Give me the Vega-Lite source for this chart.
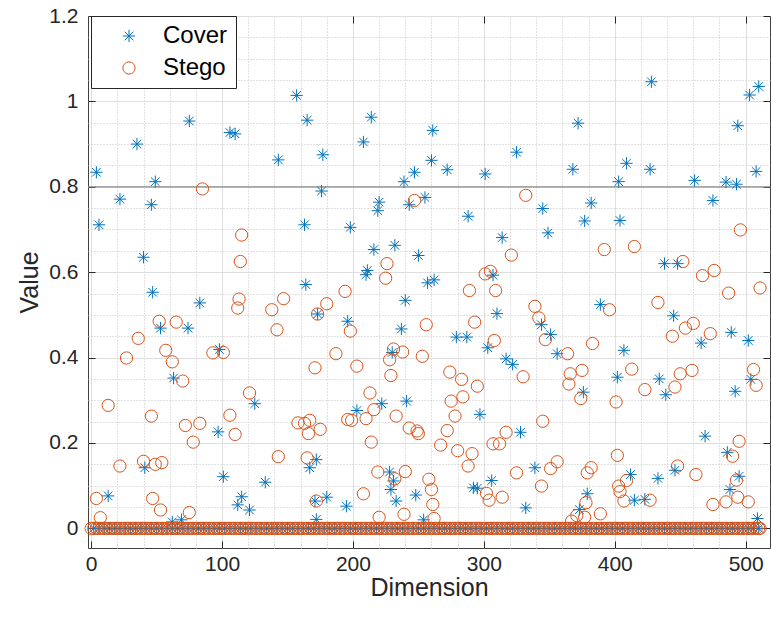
{
"$schema": "https://vega.github.io/schema/vega-lite/v6.json",
"width": 682, "height": 532,
"autosize": "none",
"padding": {"left": 88, "top": 16, "right": 1, "bottom": 77},
"background": "white",
"config": {"view": {"stroke": "#404040", "strokeWidth": 1}, "font": "Liberation Sans",
 "axis": {"labelFont": "Liberation Sans", "titleFont": "Liberation Sans", "labelColor": "#262626", "titleColor": "#262626", "titleFontWeight": "normal"}},
"datasets": {"pts": [
{"d":2,"v":0,"s":"Cover"},{"d":6,"v":0,"s":"Cover"},{"d":10,"v":0,"s":"Cover"},{"d":14,"v":0,"s":"Cover"},{"d":18,"v":0,"s":"Cover"},{"d":22,"v":0,"s":"Cover"},{"d":26,"v":0,"s":"Cover"},{"d":30,"v":0,"s":"Cover"},{"d":34,"v":0,"s":"Cover"},{"d":38,"v":0,"s":"Cover"},{"d":42,"v":0,"s":"Cover"},{"d":46,"v":0,"s":"Cover"},{"d":50,"v":0,"s":"Cover"},{"d":54,"v":0,"s":"Cover"},{"d":58,"v":0,"s":"Cover"},{"d":62,"v":0,"s":"Cover"},{"d":66,"v":0,"s":"Cover"},{"d":70,"v":0,"s":"Cover"},{"d":74,"v":0,"s":"Cover"},{"d":78,"v":0,"s":"Cover"},{"d":82,"v":0,"s":"Cover"},{"d":86,"v":0,"s":"Cover"},{"d":90,"v":0,"s":"Cover"},{"d":94,"v":0,"s":"Cover"},{"d":98,"v":0,"s":"Cover"},{"d":102,"v":0,"s":"Cover"},{"d":106,"v":0,"s":"Cover"},{"d":110,"v":0,"s":"Cover"},{"d":114,"v":0,"s":"Cover"},{"d":118,"v":0,"s":"Cover"},{"d":122,"v":0,"s":"Cover"},{"d":126,"v":0,"s":"Cover"},{"d":130,"v":0,"s":"Cover"},{"d":134,"v":0,"s":"Cover"},{"d":138,"v":0,"s":"Cover"},{"d":142,"v":0,"s":"Cover"},{"d":146,"v":0,"s":"Cover"},{"d":150,"v":0,"s":"Cover"},{"d":154,"v":0,"s":"Cover"},{"d":158,"v":0,"s":"Cover"},{"d":162,"v":0,"s":"Cover"},{"d":166,"v":0,"s":"Cover"},{"d":170,"v":0,"s":"Cover"},{"d":174,"v":0,"s":"Cover"},{"d":178,"v":0,"s":"Cover"},{"d":182,"v":0,"s":"Cover"},{"d":186,"v":0,"s":"Cover"},{"d":190,"v":0,"s":"Cover"},{"d":194,"v":0,"s":"Cover"},{"d":198,"v":0,"s":"Cover"},{"d":202,"v":0,"s":"Cover"},{"d":206,"v":0,"s":"Cover"},{"d":210,"v":0,"s":"Cover"},{"d":214,"v":0,"s":"Cover"},{"d":218,"v":0,"s":"Cover"},{"d":222,"v":0,"s":"Cover"},{"d":226,"v":0,"s":"Cover"},{"d":230,"v":0,"s":"Cover"},{"d":234,"v":0,"s":"Cover"},{"d":238,"v":0,"s":"Cover"},{"d":242,"v":0,"s":"Cover"},{"d":246,"v":0,"s":"Cover"},{"d":250,"v":0,"s":"Cover"},{"d":254,"v":0,"s":"Cover"},{"d":258,"v":0,"s":"Cover"},{"d":262,"v":0,"s":"Cover"},{"d":266,"v":0,"s":"Cover"},{"d":270,"v":0,"s":"Cover"},{"d":274,"v":0,"s":"Cover"},{"d":278,"v":0,"s":"Cover"},{"d":282,"v":0,"s":"Cover"},{"d":286,"v":0,"s":"Cover"},{"d":290,"v":0,"s":"Cover"},{"d":294,"v":0,"s":"Cover"},{"d":298,"v":0,"s":"Cover"},{"d":302,"v":0,"s":"Cover"},{"d":306,"v":0,"s":"Cover"},{"d":310,"v":0,"s":"Cover"},{"d":314,"v":0,"s":"Cover"},{"d":318,"v":0,"s":"Cover"},{"d":322,"v":0,"s":"Cover"},{"d":326,"v":0,"s":"Cover"},{"d":330,"v":0,"s":"Cover"},{"d":334,"v":0,"s":"Cover"},{"d":338,"v":0,"s":"Cover"},{"d":342,"v":0,"s":"Cover"},{"d":346,"v":0,"s":"Cover"},{"d":350,"v":0,"s":"Cover"},{"d":354,"v":0,"s":"Cover"},{"d":358,"v":0,"s":"Cover"},{"d":362,"v":0,"s":"Cover"},{"d":366,"v":0,"s":"Cover"},{"d":370,"v":0,"s":"Cover"},{"d":374,"v":0,"s":"Cover"},{"d":378,"v":0,"s":"Cover"},{"d":382,"v":0,"s":"Cover"},{"d":386,"v":0,"s":"Cover"},{"d":390,"v":0,"s":"Cover"},{"d":394,"v":0,"s":"Cover"},{"d":398,"v":0,"s":"Cover"},{"d":402,"v":0,"s":"Cover"},{"d":406,"v":0,"s":"Cover"},{"d":410,"v":0,"s":"Cover"},{"d":414,"v":0,"s":"Cover"},{"d":418,"v":0,"s":"Cover"},{"d":422,"v":0,"s":"Cover"},{"d":426,"v":0,"s":"Cover"},{"d":430,"v":0,"s":"Cover"},{"d":434,"v":0,"s":"Cover"},{"d":438,"v":0,"s":"Cover"},{"d":442,"v":0,"s":"Cover"},{"d":446,"v":0,"s":"Cover"},{"d":450,"v":0,"s":"Cover"},{"d":454,"v":0,"s":"Cover"},{"d":458,"v":0,"s":"Cover"},{"d":462,"v":0,"s":"Cover"},{"d":466,"v":0,"s":"Cover"},{"d":470,"v":0,"s":"Cover"},{"d":474,"v":0,"s":"Cover"},{"d":478,"v":0,"s":"Cover"},{"d":482,"v":0,"s":"Cover"},{"d":486,"v":0,"s":"Cover"},{"d":490,"v":0,"s":"Cover"},{"d":494,"v":0,"s":"Cover"},{"d":498,"v":0,"s":"Cover"},{"d":502,"v":0,"s":"Cover"},{"d":506,"v":0,"s":"Cover"},{"d":510,"v":0,"s":"Cover"},
{"d":75,"v":0.954,"s":"Cover"},{"d":35,"v":0.9,"s":"Cover"},{"d":4,"v":0.834,"s":"Cover"},{"d":49,"v":0.812,"s":"Cover"},{"d":22,"v":0.771,"s":"Cover"},{"d":46,"v":0.758,"s":"Cover"},{"d":6,"v":0.711,"s":"Cover"},{"d":40,"v":0.635,"s":"Cover"},{"d":47,"v":0.553,"s":"Cover"},
{"d":157,"v":1.014,"s":"Cover"},{"d":165,"v":0.956,"s":"Cover"},{"d":106,"v":0.927,"s":"Cover"},{"d":110,"v":0.924,"s":"Cover"},{"d":143,"v":0.863,"s":"Cover"},{"d":177,"v":0.875,"s":"Cover"},{"d":176,"v":0.79,"s":"Cover"},{"d":163,"v":0.711,"s":"Cover"},{"d":164,"v":0.571,"s":"Cover"},
{"d":214,"v":0.963,"s":"Cover"},{"d":208,"v":0.905,"s":"Cover"},{"d":261,"v":0.932,"s":"Cover"},{"d":260,"v":0.862,"s":"Cover"},{"d":247,"v":0.834,"s":"Cover"},{"d":239,"v":0.812,"s":"Cover"},{"d":220,"v":0.764,"s":"Cover"},{"d":219,"v":0.744,"s":"Cover"},{"d":243,"v":0.758,"s":"Cover"},{"d":255,"v":0.775,"s":"Cover"},{"d":198,"v":0.705,"s":"Cover"},{"d":216,"v":0.653,"s":"Cover"},{"d":232,"v":0.663,"s":"Cover"},{"d":250,"v":0.639,"s":"Cover"},{"d":211,"v":0.604,"s":"Cover"},{"d":210,"v":0.594,"s":"Cover"},{"d":257,"v":0.575,"s":"Cover"},{"d":262,"v":0.582,"s":"Cover"},
{"d":272,"v":0.84,"s":"Cover"},{"d":301,"v":0.83,"s":"Cover"},{"d":325,"v":0.881,"s":"Cover"},{"d":345,"v":0.749,"s":"Cover"},{"d":288,"v":0.731,"s":"Cover"},{"d":314,"v":0.681,"s":"Cover"},{"d":349,"v":0.692,"s":"Cover"},{"d":307,"v":0.593,"s":"Cover"},
{"d":428,"v":1.046,"s":"Cover"},{"d":372,"v":0.949,"s":"Cover"},{"d":368,"v":0.841,"s":"Cover"},{"d":409,"v":0.855,"s":"Cover"},{"d":427,"v":0.841,"s":"Cover"},{"d":403,"v":0.812,"s":"Cover"},{"d":382,"v":0.762,"s":"Cover"},{"d":377,"v":0.72,"s":"Cover"},{"d":404,"v":0.721,"s":"Cover"},{"d":438,"v":0.62,"s":"Cover"},
{"d":510,"v":1.035,"s":"Cover"},{"d":503,"v":1.015,"s":"Cover"},{"d":494,"v":0.943,"s":"Cover"},{"d":508,"v":0.836,"s":"Cover"},{"d":461,"v":0.815,"s":"Cover"},{"d":485,"v":0.811,"s":"Cover"},{"d":493,"v":0.806,"s":"Cover"},{"d":475,"v":0.768,"s":"Cover"},{"d":448,"v":0.62,"s":"Cover"},
{"d":83,"v":0.528,"s":"Cover"},{"d":53,"v":0.469,"s":"Cover"},{"d":74,"v":0.469,"s":"Cover"},{"d":63,"v":0.352,"s":"Cover"},{"d":41,"v":0.142,"s":"Cover"},{"d":13,"v":0.076,"s":"Cover"},{"d":62,"v":0.015,"s":"Cover"},{"d":69,"v":0.02,"s":"Cover"},
{"d":173,"v":0.502,"s":"Cover"},{"d":98,"v":0.419,"s":"Cover"},{"d":125,"v":0.292,"s":"Cover"},{"d":97,"v":0.226,"s":"Cover"},{"d":101,"v":0.121,"s":"Cover"},{"d":133,"v":0.108,"s":"Cover"},{"d":115,"v":0.074,"s":"Cover"},{"d":112,"v":0.055,"s":"Cover"},{"d":121,"v":0.043,"s":"Cover"},{"d":167,"v":0.142,"s":"Cover"},{"d":172,"v":0.161,"s":"Cover"},{"d":171,"v":0.064,"s":"Cover"},{"d":172,"v":0.021,"s":"Cover"},
{"d":240,"v":0.534,"s":"Cover"},{"d":196,"v":0.485,"s":"Cover"},{"d":237,"v":0.467,"s":"Cover"},{"d":230,"v":0.412,"s":"Cover"},{"d":222,"v":0.292,"s":"Cover"},{"d":203,"v":0.276,"s":"Cover"},{"d":241,"v":0.298,"s":"Cover"},{"d":180,"v":0.073,"s":"Cover"},{"d":195,"v":0.052,"s":"Cover"},{"d":228,"v":0.132,"s":"Cover"},{"d":231,"v":0.111,"s":"Cover"},{"d":229,"v":0.091,"s":"Cover"},{"d":233,"v":0.064,"s":"Cover"},{"d":248,"v":0.078,"s":"Cover"},{"d":254,"v":0.02,"s":"Cover"},
{"d":310,"v":0.503,"s":"Cover"},{"d":279,"v":0.448,"s":"Cover"},{"d":287,"v":0.448,"s":"Cover"},{"d":303,"v":0.423,"s":"Cover"},{"d":317,"v":0.397,"s":"Cover"},{"d":322,"v":0.384,"s":"Cover"},{"d":344,"v":0.477,"s":"Cover"},{"d":351,"v":0.454,"s":"Cover"},{"d":297,"v":0.267,"s":"Cover"},{"d":328,"v":0.225,"s":"Cover"},{"d":339,"v":0.142,"s":"Cover"},{"d":306,"v":0.112,"s":"Cover"},{"d":292,"v":0.095,"s":"Cover"},{"d":295,"v":0.094,"s":"Cover"},{"d":332,"v":0.048,"s":"Cover"},
{"d":389,"v":0.524,"s":"Cover"},{"d":356,"v":0.409,"s":"Cover"},{"d":407,"v":0.417,"s":"Cover"},{"d":402,"v":0.354,"s":"Cover"},{"d":434,"v":0.35,"s":"Cover"},{"d":376,"v":0.319,"s":"Cover"},{"d":412,"v":0.126,"s":"Cover"},{"d":433,"v":0.117,"s":"Cover"},{"d":379,"v":0.081,"s":"Cover"},{"d":415,"v":0.066,"s":"Cover"},{"d":423,"v":0.068,"s":"Cover"},{"d":373,"v":0.044,"s":"Cover"},
{"d":445,"v":0.498,"s":"Cover"},{"d":466,"v":0.434,"s":"Cover"},{"d":489,"v":0.459,"s":"Cover"},{"d":502,"v":0.44,"s":"Cover"},{"d":439,"v":0.313,"s":"Cover"},{"d":504,"v":0.349,"s":"Cover"},{"d":492,"v":0.321,"s":"Cover"},{"d":469,"v":0.216,"s":"Cover"},{"d":486,"v":0.178,"s":"Cover"},{"d":446,"v":0.136,"s":"Cover"},{"d":495,"v":0.122,"s":"Cover"},{"d":488,"v":0.091,"s":"Cover"},{"d":509,"v":0.023,"s":"Cover"},
{"d":0,"v":0,"s":"Stego"},{"d":2,"v":0,"s":"Stego"},{"d":4,"v":0,"s":"Stego"},{"d":6,"v":0,"s":"Stego"},{"d":8,"v":0,"s":"Stego"},{"d":10,"v":0,"s":"Stego"},{"d":12,"v":0,"s":"Stego"},{"d":14,"v":0,"s":"Stego"},{"d":16,"v":0,"s":"Stego"},{"d":18,"v":0,"s":"Stego"},{"d":20,"v":0,"s":"Stego"},{"d":22,"v":0,"s":"Stego"},{"d":24,"v":0,"s":"Stego"},{"d":26,"v":0,"s":"Stego"},{"d":28,"v":0,"s":"Stego"},{"d":30,"v":0,"s":"Stego"},{"d":32,"v":0,"s":"Stego"},{"d":34,"v":0,"s":"Stego"},{"d":36,"v":0,"s":"Stego"},{"d":38,"v":0,"s":"Stego"},{"d":40,"v":0,"s":"Stego"},{"d":42,"v":0,"s":"Stego"},{"d":44,"v":0,"s":"Stego"},{"d":46,"v":0,"s":"Stego"},{"d":48,"v":0,"s":"Stego"},{"d":50,"v":0,"s":"Stego"},{"d":52,"v":0,"s":"Stego"},{"d":54,"v":0,"s":"Stego"},{"d":56,"v":0,"s":"Stego"},{"d":58,"v":0,"s":"Stego"},{"d":60,"v":0,"s":"Stego"},{"d":62,"v":0,"s":"Stego"},{"d":64,"v":0,"s":"Stego"},{"d":66,"v":0,"s":"Stego"},{"d":68,"v":0,"s":"Stego"},{"d":70,"v":0,"s":"Stego"},{"d":72,"v":0,"s":"Stego"},{"d":74,"v":0,"s":"Stego"},{"d":76,"v":0,"s":"Stego"},{"d":78,"v":0,"s":"Stego"},{"d":80,"v":0,"s":"Stego"},{"d":82,"v":0,"s":"Stego"},{"d":84,"v":0,"s":"Stego"},{"d":86,"v":0,"s":"Stego"},{"d":88,"v":0,"s":"Stego"},{"d":90,"v":0,"s":"Stego"},{"d":92,"v":0,"s":"Stego"},{"d":94,"v":0,"s":"Stego"},{"d":96,"v":0,"s":"Stego"},{"d":98,"v":0,"s":"Stego"},{"d":100,"v":0,"s":"Stego"},{"d":102,"v":0,"s":"Stego"},{"d":104,"v":0,"s":"Stego"},{"d":106,"v":0,"s":"Stego"},{"d":108,"v":0,"s":"Stego"},{"d":110,"v":0,"s":"Stego"},{"d":112,"v":0,"s":"Stego"},{"d":114,"v":0,"s":"Stego"},{"d":116,"v":0,"s":"Stego"},{"d":118,"v":0,"s":"Stego"},{"d":120,"v":0,"s":"Stego"},{"d":122,"v":0,"s":"Stego"},{"d":124,"v":0,"s":"Stego"},{"d":126,"v":0,"s":"Stego"},{"d":128,"v":0,"s":"Stego"},{"d":130,"v":0,"s":"Stego"},{"d":132,"v":0,"s":"Stego"},{"d":134,"v":0,"s":"Stego"},{"d":136,"v":0,"s":"Stego"},{"d":138,"v":0,"s":"Stego"},{"d":140,"v":0,"s":"Stego"},{"d":142,"v":0,"s":"Stego"},{"d":144,"v":0,"s":"Stego"},{"d":146,"v":0,"s":"Stego"},{"d":148,"v":0,"s":"Stego"},{"d":150,"v":0,"s":"Stego"},{"d":152,"v":0,"s":"Stego"},{"d":154,"v":0,"s":"Stego"},{"d":156,"v":0,"s":"Stego"},{"d":158,"v":0,"s":"Stego"},{"d":160,"v":0,"s":"Stego"},{"d":162,"v":0,"s":"Stego"},{"d":164,"v":0,"s":"Stego"},{"d":166,"v":0,"s":"Stego"},{"d":168,"v":0,"s":"Stego"},{"d":170,"v":0,"s":"Stego"},{"d":172,"v":0,"s":"Stego"},{"d":174,"v":0,"s":"Stego"},{"d":176,"v":0,"s":"Stego"},{"d":178,"v":0,"s":"Stego"},{"d":180,"v":0,"s":"Stego"},{"d":182,"v":0,"s":"Stego"},{"d":184,"v":0,"s":"Stego"},{"d":186,"v":0,"s":"Stego"},{"d":188,"v":0,"s":"Stego"},{"d":190,"v":0,"s":"Stego"},{"d":192,"v":0,"s":"Stego"},{"d":194,"v":0,"s":"Stego"},{"d":196,"v":0,"s":"Stego"},{"d":198,"v":0,"s":"Stego"},{"d":200,"v":0,"s":"Stego"},{"d":202,"v":0,"s":"Stego"},{"d":204,"v":0,"s":"Stego"},{"d":206,"v":0,"s":"Stego"},{"d":208,"v":0,"s":"Stego"},{"d":210,"v":0,"s":"Stego"},{"d":212,"v":0,"s":"Stego"},{"d":214,"v":0,"s":"Stego"},{"d":216,"v":0,"s":"Stego"},{"d":218,"v":0,"s":"Stego"},{"d":220,"v":0,"s":"Stego"},{"d":222,"v":0,"s":"Stego"},{"d":224,"v":0,"s":"Stego"},{"d":226,"v":0,"s":"Stego"},{"d":228,"v":0,"s":"Stego"},{"d":230,"v":0,"s":"Stego"},{"d":232,"v":0,"s":"Stego"},{"d":234,"v":0,"s":"Stego"},{"d":236,"v":0,"s":"Stego"},{"d":238,"v":0,"s":"Stego"},{"d":240,"v":0,"s":"Stego"},{"d":242,"v":0,"s":"Stego"},{"d":244,"v":0,"s":"Stego"},{"d":246,"v":0,"s":"Stego"},{"d":248,"v":0,"s":"Stego"},{"d":250,"v":0,"s":"Stego"},{"d":252,"v":0,"s":"Stego"},{"d":254,"v":0,"s":"Stego"},{"d":256,"v":0,"s":"Stego"},{"d":258,"v":0,"s":"Stego"},{"d":260,"v":0,"s":"Stego"},{"d":262,"v":0,"s":"Stego"},{"d":264,"v":0,"s":"Stego"},{"d":266,"v":0,"s":"Stego"},{"d":268,"v":0,"s":"Stego"},{"d":270,"v":0,"s":"Stego"},{"d":272,"v":0,"s":"Stego"},{"d":274,"v":0,"s":"Stego"},{"d":276,"v":0,"s":"Stego"},{"d":278,"v":0,"s":"Stego"},{"d":280,"v":0,"s":"Stego"},{"d":282,"v":0,"s":"Stego"},{"d":284,"v":0,"s":"Stego"},{"d":286,"v":0,"s":"Stego"},{"d":288,"v":0,"s":"Stego"},{"d":290,"v":0,"s":"Stego"},{"d":292,"v":0,"s":"Stego"},{"d":294,"v":0,"s":"Stego"},{"d":296,"v":0,"s":"Stego"},{"d":298,"v":0,"s":"Stego"},{"d":300,"v":0,"s":"Stego"},{"d":302,"v":0,"s":"Stego"},{"d":304,"v":0,"s":"Stego"},{"d":306,"v":0,"s":"Stego"},{"d":308,"v":0,"s":"Stego"},{"d":310,"v":0,"s":"Stego"},{"d":312,"v":0,"s":"Stego"},{"d":314,"v":0,"s":"Stego"},{"d":316,"v":0,"s":"Stego"},{"d":318,"v":0,"s":"Stego"},{"d":320,"v":0,"s":"Stego"},{"d":322,"v":0,"s":"Stego"},{"d":324,"v":0,"s":"Stego"},{"d":326,"v":0,"s":"Stego"},{"d":328,"v":0,"s":"Stego"},{"d":330,"v":0,"s":"Stego"},{"d":332,"v":0,"s":"Stego"},{"d":334,"v":0,"s":"Stego"},{"d":336,"v":0,"s":"Stego"},{"d":338,"v":0,"s":"Stego"},{"d":340,"v":0,"s":"Stego"},{"d":342,"v":0,"s":"Stego"},{"d":344,"v":0,"s":"Stego"},{"d":346,"v":0,"s":"Stego"},{"d":348,"v":0,"s":"Stego"},{"d":350,"v":0,"s":"Stego"},{"d":352,"v":0,"s":"Stego"},{"d":354,"v":0,"s":"Stego"},{"d":356,"v":0,"s":"Stego"},{"d":358,"v":0,"s":"Stego"},{"d":360,"v":0,"s":"Stego"},{"d":362,"v":0,"s":"Stego"},{"d":364,"v":0,"s":"Stego"},{"d":366,"v":0,"s":"Stego"},{"d":368,"v":0,"s":"Stego"},{"d":370,"v":0,"s":"Stego"},{"d":372,"v":0,"s":"Stego"},{"d":374,"v":0,"s":"Stego"},{"d":376,"v":0,"s":"Stego"},{"d":378,"v":0,"s":"Stego"},{"d":380,"v":0,"s":"Stego"},{"d":382,"v":0,"s":"Stego"},{"d":384,"v":0,"s":"Stego"},{"d":386,"v":0,"s":"Stego"},{"d":388,"v":0,"s":"Stego"},{"d":390,"v":0,"s":"Stego"},{"d":392,"v":0,"s":"Stego"},{"d":394,"v":0,"s":"Stego"},{"d":396,"v":0,"s":"Stego"},{"d":398,"v":0,"s":"Stego"},{"d":400,"v":0,"s":"Stego"},{"d":402,"v":0,"s":"Stego"},{"d":404,"v":0,"s":"Stego"},{"d":406,"v":0,"s":"Stego"},{"d":408,"v":0,"s":"Stego"},{"d":410,"v":0,"s":"Stego"},{"d":412,"v":0,"s":"Stego"},{"d":414,"v":0,"s":"Stego"},{"d":416,"v":0,"s":"Stego"},{"d":418,"v":0,"s":"Stego"},{"d":420,"v":0,"s":"Stego"},{"d":422,"v":0,"s":"Stego"},{"d":424,"v":0,"s":"Stego"},{"d":426,"v":0,"s":"Stego"},{"d":428,"v":0,"s":"Stego"},{"d":430,"v":0,"s":"Stego"},{"d":432,"v":0,"s":"Stego"},{"d":434,"v":0,"s":"Stego"},{"d":436,"v":0,"s":"Stego"},{"d":438,"v":0,"s":"Stego"},{"d":440,"v":0,"s":"Stego"},{"d":442,"v":0,"s":"Stego"},{"d":444,"v":0,"s":"Stego"},{"d":446,"v":0,"s":"Stego"},{"d":448,"v":0,"s":"Stego"},{"d":450,"v":0,"s":"Stego"},{"d":452,"v":0,"s":"Stego"},{"d":454,"v":0,"s":"Stego"},{"d":456,"v":0,"s":"Stego"},{"d":458,"v":0,"s":"Stego"},{"d":460,"v":0,"s":"Stego"},{"d":462,"v":0,"s":"Stego"},{"d":464,"v":0,"s":"Stego"},{"d":466,"v":0,"s":"Stego"},{"d":468,"v":0,"s":"Stego"},{"d":470,"v":0,"s":"Stego"},{"d":472,"v":0,"s":"Stego"},{"d":474,"v":0,"s":"Stego"},{"d":476,"v":0,"s":"Stego"},{"d":478,"v":0,"s":"Stego"},{"d":480,"v":0,"s":"Stego"},{"d":482,"v":0,"s":"Stego"},{"d":484,"v":0,"s":"Stego"},{"d":486,"v":0,"s":"Stego"},{"d":488,"v":0,"s":"Stego"},{"d":490,"v":0,"s":"Stego"},{"d":492,"v":0,"s":"Stego"},{"d":494,"v":0,"s":"Stego"},{"d":496,"v":0,"s":"Stego"},{"d":498,"v":0,"s":"Stego"},{"d":500,"v":0,"s":"Stego"},{"d":502,"v":0,"s":"Stego"},{"d":504,"v":0,"s":"Stego"},{"d":506,"v":0,"s":"Stego"},{"d":508,"v":0,"s":"Stego"},{"d":510,"v":0,"s":"Stego"},{"d":511,"v":0,"s":"Stego"},
{"d":85,"v":0.795,"s":"Stego"},{"d":115,"v":0.687,"s":"Stego"},{"d":114,"v":0.625,"s":"Stego"},
{"d":247,"v":0.768,"s":"Stego"},{"d":226,"v":0.62,"s":"Stego"},{"d":225,"v":0.586,"s":"Stego"},{"d":194,"v":0.555,"s":"Stego"},
{"d":332,"v":0.78,"s":"Stego"},{"d":321,"v":0.64,"s":"Stego"},{"d":301,"v":0.596,"s":"Stego"},{"d":305,"v":0.602,"s":"Stego"},{"d":289,"v":0.557,"s":"Stego"},{"d":309,"v":0.557,"s":"Stego"},
{"d":392,"v":0.653,"s":"Stego"},{"d":415,"v":0.66,"s":"Stego"},
{"d":496,"v":0.699,"s":"Stego"},{"d":452,"v":0.625,"s":"Stego"},{"d":467,"v":0.592,"s":"Stego"},{"d":476,"v":0.604,"s":"Stego"},{"d":487,"v":0.551,"s":"Stego"},{"d":511,"v":0.563,"s":"Stego"},
{"d":52,"v":0.485,"s":"Stego"},{"d":65,"v":0.483,"s":"Stego"},{"d":36,"v":0.445,"s":"Stego"},{"d":57,"v":0.417,"s":"Stego"},{"d":27,"v":0.399,"s":"Stego"},{"d":62,"v":0.39,"s":"Stego"},{"d":70,"v":0.345,"s":"Stego"},{"d":13,"v":0.288,"s":"Stego"},{"d":46,"v":0.263,"s":"Stego"},{"d":72,"v":0.241,"s":"Stego"},{"d":83,"v":0.246,"s":"Stego"},{"d":78,"v":0.202,"s":"Stego"},{"d":22,"v":0.146,"s":"Stego"},{"d":40,"v":0.157,"s":"Stego"},{"d":49,"v":0.15,"s":"Stego"},{"d":54,"v":0.154,"s":"Stego"},{"d":4,"v":0.07,"s":"Stego"},{"d":47,"v":0.07,"s":"Stego"},{"d":53,"v":0.043,"s":"Stego"},{"d":75,"v":0.037,"s":"Stego"},{"d":7,"v":0.025,"s":"Stego"},
{"d":113,"v":0.537,"s":"Stego"},{"d":112,"v":0.516,"s":"Stego"},{"d":147,"v":0.538,"s":"Stego"},{"d":138,"v":0.512,"s":"Stego"},{"d":142,"v":0.465,"s":"Stego"},{"d":93,"v":0.411,"s":"Stego"},{"d":101,"v":0.412,"s":"Stego"},{"d":171,"v":0.376,"s":"Stego"},{"d":121,"v":0.317,"s":"Stego"},{"d":106,"v":0.265,"s":"Stego"},{"d":110,"v":0.22,"s":"Stego"},{"d":143,"v":0.168,"s":"Stego"},{"d":165,"v":0.165,"s":"Stego"},{"d":158,"v":0.247,"s":"Stego"},{"d":163,"v":0.246,"s":"Stego"},{"d":167,"v":0.253,"s":"Stego"},{"d":166,"v":0.222,"s":"Stego"},{"d":175,"v":0.232,"s":"Stego"},{"d":172,"v":0.064,"s":"Stego"},{"d":173,"v":0.502,"s":"Stego"},
{"d":180,"v":0.526,"s":"Stego"},{"d":198,"v":0.462,"s":"Stego"},{"d":256,"v":0.477,"s":"Stego"},{"d":187,"v":0.409,"s":"Stego"},{"d":231,"v":0.42,"s":"Stego"},{"d":238,"v":0.413,"s":"Stego"},{"d":228,"v":0.395,"s":"Stego"},{"d":253,"v":0.403,"s":"Stego"},{"d":203,"v":0.38,"s":"Stego"},{"d":229,"v":0.358,"s":"Stego"},{"d":213,"v":0.317,"s":"Stego"},{"d":216,"v":0.278,"s":"Stego"},{"d":196,"v":0.255,"s":"Stego"},{"d":199,"v":0.253,"s":"Stego"},{"d":210,"v":0.257,"s":"Stego"},{"d":233,"v":0.263,"s":"Stego"},{"d":243,"v":0.235,"s":"Stego"},{"d":249,"v":0.228,"s":"Stego"},{"d":250,"v":0.222,"s":"Stego"},{"d":214,"v":0.202,"s":"Stego"},{"d":219,"v":0.132,"s":"Stego"},{"d":240,"v":0.133,"s":"Stego"},{"d":232,"v":0.116,"s":"Stego"},{"d":258,"v":0.115,"s":"Stego"},{"d":260,"v":0.091,"s":"Stego"},{"d":208,"v":0.081,"s":"Stego"},{"d":220,"v":0.026,"s":"Stego"},{"d":239,"v":0.033,"s":"Stego"},{"d":261,"v":0.056,"s":"Stego"},{"d":262,"v":0.023,"s":"Stego"},
{"d":339,"v":0.52,"s":"Stego"},{"d":342,"v":0.493,"s":"Stego"},{"d":347,"v":0.442,"s":"Stego"},{"d":293,"v":0.483,"s":"Stego"},{"d":308,"v":0.44,"s":"Stego"},{"d":330,"v":0.355,"s":"Stego"},{"d":274,"v":0.366,"s":"Stego"},{"d":283,"v":0.349,"s":"Stego"},{"d":295,"v":0.333,"s":"Stego"},{"d":275,"v":0.298,"s":"Stego"},{"d":284,"v":0.308,"s":"Stego"},{"d":278,"v":0.263,"s":"Stego"},{"d":272,"v":0.229,"s":"Stego"},{"d":345,"v":0.251,"s":"Stego"},{"d":317,"v":0.225,"s":"Stego"},{"d":267,"v":0.195,"s":"Stego"},{"d":280,"v":0.182,"s":"Stego"},{"d":291,"v":0.175,"s":"Stego"},{"d":307,"v":0.198,"s":"Stego"},{"d":312,"v":0.198,"s":"Stego"},{"d":288,"v":0.146,"s":"Stego"},{"d":325,"v":0.13,"s":"Stego"},{"d":344,"v":0.099,"s":"Stego"},{"d":302,"v":0.082,"s":"Stego"},{"d":304,"v":0.066,"s":"Stego"},{"d":314,"v":0.073,"s":"Stego"},
{"d":396,"v":0.512,"s":"Stego"},{"d":433,"v":0.529,"s":"Stego"},{"d":383,"v":0.433,"s":"Stego"},{"d":364,"v":0.409,"s":"Stego"},{"d":413,"v":0.373,"s":"Stego"},{"d":366,"v":0.362,"s":"Stego"},{"d":375,"v":0.37,"s":"Stego"},{"d":365,"v":0.338,"s":"Stego"},{"d":374,"v":0.304,"s":"Stego"},{"d":423,"v":0.325,"s":"Stego"},{"d":401,"v":0.296,"s":"Stego"},{"d":402,"v":0.171,"s":"Stego"},{"d":356,"v":0.156,"s":"Stego"},{"d":351,"v":0.14,"s":"Stego"},{"d":382,"v":0.142,"s":"Stego"},{"d":379,"v":0.13,"s":"Stego"},{"d":409,"v":0.112,"s":"Stego"},{"d":403,"v":0.099,"s":"Stego"},{"d":404,"v":0.086,"s":"Stego"},{"d":407,"v":0.064,"s":"Stego"},{"d":427,"v":0.066,"s":"Stego"},{"d":378,"v":0.06,"s":"Stego"},{"d":389,"v":0.034,"s":"Stego"},{"d":371,"v":0.03,"s":"Stego"},{"d":377,"v":0.026,"s":"Stego"},{"d":367,"v":0.017,"s":"Stego"},
{"d":460,"v":0.48,"s":"Stego"},{"d":454,"v":0.469,"s":"Stego"},{"d":444,"v":0.45,"s":"Stego"},{"d":473,"v":0.456,"s":"Stego"},{"d":450,"v":0.362,"s":"Stego"},{"d":459,"v":0.37,"s":"Stego"},{"d":446,"v":0.331,"s":"Stego"},{"d":506,"v":0.372,"s":"Stego"},{"d":508,"v":0.335,"s":"Stego"},{"d":495,"v":0.204,"s":"Stego"},{"d":490,"v":0.169,"s":"Stego"},{"d":448,"v":0.146,"s":"Stego"},{"d":462,"v":0.126,"s":"Stego"},{"d":493,"v":0.113,"s":"Stego"},{"d":494,"v":0.073,"s":"Stego"},{"d":485,"v":0.062,"s":"Stego"},{"d":502,"v":0.062,"s":"Stego"},{"d":475,"v":0.056,"s":"Stego"}
]},
"layer": [
{"data": {"values": [{"d": 0, "v": 0}]}, "mark": {"type": "point", "opacity": 0},
 "encoding": {
  "x": {"field": "d", "type": "quantitative", "scale": {"domain": [-2.4, 518.6], "nice": false, "zero": false},
   "axis": {"orient": "bottom", "values": [20,40,60,80,120,140,160,180,220,240,260,280,320,340,360,380,420,440,460,480], "grid": true, "gridDash": [1,2], "gridColor": "#c4c4c4", "gridWidth": 1, "ticks": false, "labels": false, "domain": false, "title": null}},
  "y": {"field": "v", "type": "quantitative", "scale": {"domain": [-0.046, 1.2], "nice": false, "zero": false},
   "axis": {"orient": "left", "values": [0.05,0.1,0.15,0.25,0.3,0.35,0.45,0.5,0.55,0.65,0.7,0.75,0.85,0.9,0.95,1.05,1.1,1.15], "grid": true, "gridDash": [1,2], "gridColor": "#c4c4c4", "gridWidth": 1, "ticks": false, "labels": false, "domain": false, "title": null}}
 }},
{"data": {"values": [{"d": 0, "v": 0}]}, "mark": {"type": "point", "opacity": 0},
 "encoding": {
  "x": {"field": "d", "type": "quantitative", "scale": {"domain": [-2.4, 518.6], "nice": false, "zero": false},
   "axis": {"orient": "top", "values": [0,100,200,300,400,500], "grid": true, "gridColor": "#dedede", "gridWidth": 1, "ticks": true, "tickSize": -7, "tickColor": "#262626", "labels": false, "domain": false, "title": null}},
  "y": {"field": "v", "type": "quantitative", "scale": {"domain": [-0.046, 1.2], "nice": false, "zero": false},
   "axis": {"orient": "right", "values": [0,0.2,0.4,0.6,0.8,1,1.2], "grid": true, "gridColor": "#dedede", "gridWidth": 1, "ticks": true, "tickSize": -7, "tickColor": "#262626", "labels": false, "domain": false, "title": null}}
 }},
{"data": {"values": [{"d": 0, "v": 0}]}, "mark": {"type": "point", "opacity": 0},
 "encoding": {
  "x": {"field": "d", "type": "quantitative", "scale": {"domain": [-2.4, 518.6], "nice": false, "zero": false},
   "axis": {"orient": "bottom", "values": [0,100,200,300,400,500], "grid": false, "ticks": true, "tickSize": -7, "tickColor": "#262626", "labels": false, "domain": false, "title": null}},
  "y": {"field": "v", "type": "quantitative", "scale": {"domain": [-0.046, 1.2], "nice": false, "zero": false},
   "axis": {"orient": "left", "values": [0,0.2,0.4,0.6,0.8,1,1.2], "grid": false, "ticks": true, "tickSize": -7, "tickColor": "#262626", "labels": false, "domain": false, "title": null}}
 }},
{"data": {"values": [{}]}, "mark": {"type": "rule", "color": "#8a8a8a", "strokeWidth": 1.2},
 "encoding": {"y": {"datum": 0.8, "type": "quantitative", "scale": {"domain": [-0.046, 1.2], "nice": false, "zero": false}, "axis": null}}},
{"data": {"name": "pts"}, "mark": {"type": "point", "filled": false, "size": 150, "strokeWidth": 1, "opacity": 1},
 "encoding": {
  "x": {"field": "d", "type": "quantitative", "scale": {"domain": [-2.4, 518.6], "nice": false, "zero": false},
   "axis": {"orient": "bottom", "values": [0,100,200,300,400,500], "grid": false, "ticks": false, "domain": false, "labelFontSize": 21, "labelPadding": 5, "title": "Dimension", "titleFontSize": 25, "titleY": 47, "titleBaseline": "alphabetic"}},
  "y": {"field": "v", "type": "quantitative", "scale": {"domain": [-0.046, 1.2], "nice": false, "zero": false},
   "axis": {"orient": "left", "values": [0,0.2,0.4,0.6,0.8,1,1.2], "format": "~g", "grid": false, "ticks": false, "domain": false, "labelFontSize": 21, "labelPadding": 10, "title": "Value", "titleFontSize": 25, "titlePadding": 6}},
  "color": {"field": "s", "type": "nominal", "scale": {"domain": ["Cover", "Stego"], "range": ["#0072BD", "#D95319"]},
   "legend": {"title": null, "orient": "none", "legendX": 3, "legendY": 0, "strokeColor": "#262626", "fillColor": "white", "padding": 8, "symbolOffset": 18, "labelOffset": 22, "labelFontSize": 24, "labelFont": "Liberation Sans", "labelColor": "#000000", "rowPadding": 8, "symbolSize": 150, "symbolStrokeWidth": 1}},
  "shape": {"field": "s", "type": "nominal", "scale": {"domain": ["Cover", "Stego"], "range": ["M-1,0L1,0M0,-1L0,1M-0.7,-0.7L0.7,0.7M-0.7,0.7L0.7,-0.7", "circle"]},
   "legend": {"title": null, "orient": "none", "legendX": 3, "legendY": 0, "strokeColor": "#262626", "fillColor": "white", "padding": 8, "symbolOffset": 18, "labelOffset": 22, "labelFontSize": 24, "labelFont": "Liberation Sans", "labelColor": "#000000", "rowPadding": 8, "symbolSize": 150, "symbolStrokeWidth": 1}}
 }}
],
"resolve": {"axis": {"x": "independent", "y": "independent"}}
}
